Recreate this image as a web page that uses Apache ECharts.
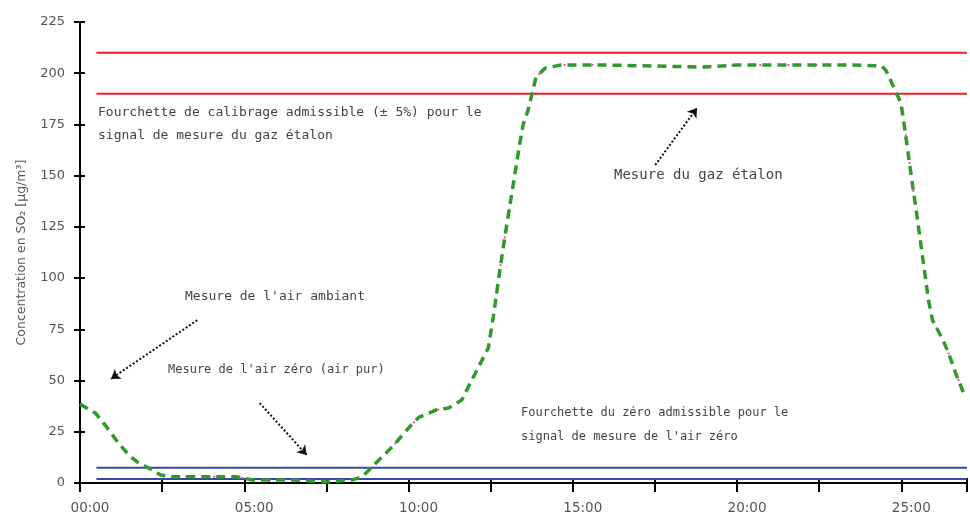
<!DOCTYPE html>
<html><head><meta charset="utf-8">
<script src="https://cdn.jsdelivr.net/npm/echarts@6/dist/echarts.min.js"></script>
<style>html,body{margin:0;padding:0;background:#fff}#c{width:970px;height:517px}</style>
</head><body><div id="c"></div>
<script>
// time in hours, SO2 concentration in µg/m3
const hours = [0, 0.48, 0.73, 1.15, 1.48, 1.78, 2.21, 2.45, 2.84, 3.75, 4.78, 5.26, 6.47, 7.5, 8.29, 8.59, 9.01, 9.5, 10.01, 10.31, 10.83, 11.22, 11.62, 11.92, 12.43, 12.58, 12.79, 12.98, 13.19, 13.4, 13.49, 13.64, 13.79, 13.88, 14.16, 14.64, 16.0, 17.5, 19.0, 20.0, 22.0, 23.5, 24.4, 24.53, 24.83, 24.99, 25.14, 25.35, 25.44, 25.65, 25.83, 25.95, 26.26, 26.44, 26.65, 26.86, 26.95];
const so2 =   [38.5, 34, 29, 20, 13.7, 9.8, 6.3, 3.9, 3, 3, 3, 1.5, 1.5, 0.5, 1.5, 3, 9.8, 17.6, 27, 32, 35.6, 36.6, 40.5, 50, 66, 81, 105, 125, 146, 167, 175, 182, 192, 198, 202.5, 204, 204, 203.5, 203, 204, 204, 204, 203.5, 201.5, 191, 185.5, 169, 144.5, 134.7, 110, 89, 79.5, 70, 63.4, 53.7, 45.4, 43];
const calibBand = [210, 190];   // ±5% around 200
const zeroBand = [7.5, 2];
const bandStart = 0.5, axisEnd = 27;
const yTicks = [0, 25, 50, 75, 100, 125, 150, 175, 200, 225];
const xLabelHours = [0, 5, 10, 15, 20, 25];

const chart = echarts.init(document.getElementById('c'));
const curve = hours.map((h, i) => [h, so2[i]]);
const hline = v => [[bandStart, v], [axisEnd, v]];
const fmtTime = v => (xLabelHours.indexOf(v) >= 0 ? String(v).padStart(2, '0') + ':00' : '');
const FONT = 'DejaVu Sans';
const NOTE = '13px "DejaVu Sans Mono"';

const baseX = {type: 'value', min: 0, max: axisEnd, interval: 2.5, splitLine: {show: false}};
const baseY = {type: 'value', min: 0, max: 225, interval: 25, splitLine: {show: false}};

chart.setOption({
  animation: false,
  grid: {left: 80, right: 0, top: 22, bottom: 34, containLabel: false},
  xAxis: [
    Object.assign({}, baseX, {
      axisLine: {onZero: false, lineStyle: {color: '#000', width: 2}},
      axisTick: {show: true, length: 9, lineStyle: {color: '#000', width: 2}},
      axisLabel: {formatter: fmtTime, color: '#555', fontFamily: FONT, fontSize: 13.5, margin: 18, padding: [0, 0, 0, 20]}
    }),
    Object.assign({}, baseX, {
      position: 'bottom',
      axisLine: {show: false},
      axisTick: {show: true, inside: true, length: 5, lineStyle: {color: '#000', width: 2}},
      axisLabel: {show: false}
    })
  ],
  yAxis: [
    Object.assign({}, baseY, {
      axisLine: {onZero: false, lineStyle: {color: '#000', width: 2}},
      axisTick: {show: true, length: 6, lineStyle: {color: '#000', width: 2}},
      axisLabel: {color: '#555', fontFamily: FONT, fontSize: 13, margin: 15},
      name: 'Concentration en SO₂ [µg/m³]',
      nameLocation: 'middle', nameGap: 52,
      nameTextStyle: {color: '#555', fontFamily: FONT, fontSize: 12.5}
    }),
    Object.assign({}, baseY, {
      position: 'left',
      axisLine: {show: false},
      axisTick: {show: true, inside: true, length: 5, lineStyle: {color: '#000', width: 2}},
      axisLabel: {show: false}
    })
  ],
  series: [
    {type: 'line', data: hline(calibBand[0]), symbol: 'none', lineStyle: {color: '#ee1c24', width: 2}},
    {type: 'line', data: hline(calibBand[1]), symbol: 'none', lineStyle: {color: '#ee1c24', width: 2}},
    {type: 'line', data: hline(zeroBand[0]), symbol: 'none', lineStyle: {color: '#3b44a8', width: 2}},
    {type: 'line', data: hline(zeroBand[1]), symbol: 'none', lineStyle: {color: '#3b44a8', width: 2}},
    {type: 'line', data: curve, symbol: 'none', z: 3,
     lineStyle: {color: '#ff44b0', width: 2, type: [2, 26], dashOffset: 6}},
    {type: 'line', data: curve, symbol: 'none', z: 4,
     lineStyle: {color: '#2f9a2a', width: 3.5, type: [9, 6]},
     markLine: {
       silent: true, symbol: ['none', 'arrow'], symbolSize: 9,
       label: {show: false},
       lineStyle: {color: '#111', type: 'dotted', width: 2},
       data: [
         [{coord: [3.57, 79.5]}, {coord: [0.94, 50.8]}],
         [{coord: [5.47, 39]}, {coord: [6.9, 13.7]}],
         [{coord: [17.51, 155.2]}, {coord: [18.78, 183]}]
       ]
     }}
  ],
  graphic: [
    {type: 'text', left: 98, top: 101, style: {text: 'Fourchette de calibrage admissible (± 5%) pour le\nsignal de mesure du gaz étalon', font: NOTE, fill: '#444', lineHeight: 23}},
    {type: 'text', left: 614, top: 167, style: {text: 'Mesure du gaz étalon', font: '14px "DejaVu Sans Mono"', fill: '#444', lineHeight: 16}},
    {type: 'text', left: 185, top: 289, style: {text: "Mesure de l'air ambiant", font: NOTE, fill: '#444', lineHeight: 16}},
    {type: 'text', left: 168, top: 362, style: {text: "Mesure de l'air zéro (air pur)", font: '12px "DejaVu Sans Mono"', fill: '#444', lineHeight: 16}},
    {type: 'text', left: 521, top: 401, style: {text: "Fourchette du zéro admissible pour le\nsignal de mesure de l'air zéro", font: '12px "DejaVu Sans Mono"', fill: '#444', lineHeight: 24}}
  ]
});
</script>
</body></html>
